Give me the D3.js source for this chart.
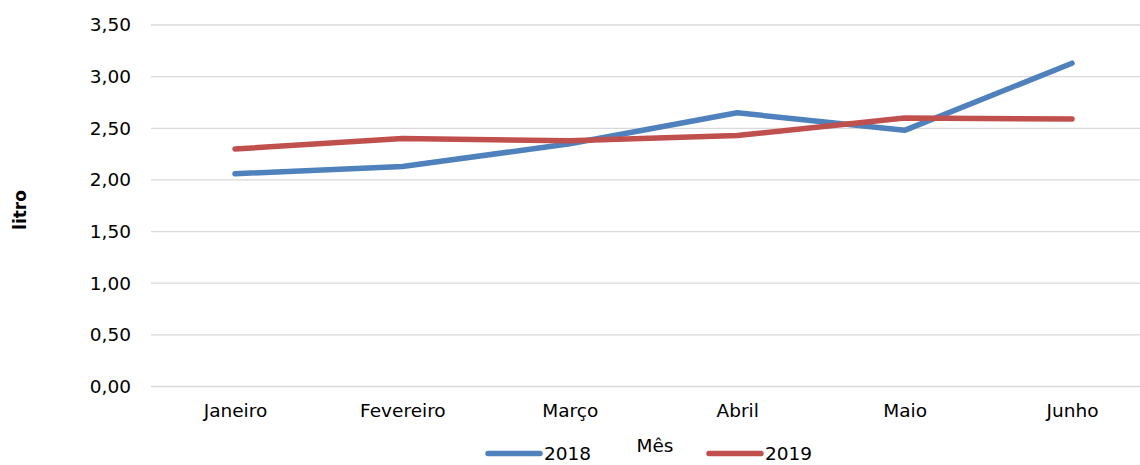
<!DOCTYPE html>
<html>
<head>
<meta charset="utf-8">
<script src="https://cdn.jsdelivr.net/npm/d3@7"></script>
<style>
  html, body { margin: 0; padding: 0; background: #fff; }
  svg { display: block; font-family: "DejaVu Sans", sans-serif; }
</style>
</head>
<body>
<svg id="chart" width="1140" height="465"></svg>
<script>
// Monthly price per litre, first half of the year
const months = ["Janeiro", "Fevereiro", "Março", "Abril", "Maio", "Junho"];
const values2018 = [2.06, 2.13, 2.35, 2.65, 2.48, 3.13];
const values2019 = [2.30, 2.40, 2.38, 2.43, 2.60, 2.59];
const yTicks = [0, 0.5, 1, 1.5, 2, 2.5, 3, 3.5];
const seriesNames = ["2018", "2019"];
const seriesColors = ["#4F81BD", "#C0504D"];

const svg = d3.select("#chart");
const W = 1140;
const FS = 18.5;

const x = d3.scalePoint().domain(months).range([235, 1072]);
const y = d3.scaleLinear().domain([0, 3.5]).range([386.5, 25]);

// horizontal gridlines
svg.append("g")
  .selectAll("line")
  .data(yTicks)
  .join("line")
  .attr("x1", 151).attr("x2", W)
  .attr("y1", d => y(d)).attr("y2", d => y(d))
  .attr("stroke", "#d9d9d9").attr("stroke-width", 1.3);

// y axis labels
const fmt = d => d.toFixed(2).replace(".", ",");
const yAxis = d3.axisLeft(y).tickValues(yTicks).tickFormat(fmt).tickSize(0).tickPadding(0);
svg.append("g")
  .attr("transform", "translate(131,0)")
  .call(yAxis)
  .call(g => g.select(".domain").remove())
  .call(g => g.selectAll("text")
    .attr("font-family", "DejaVu Sans, sans-serif")
    .attr("font-size", FS).attr("fill", "#000"));

// x axis labels
const xAxis = d3.axisBottom(x).tickSize(0).tickPadding(0);
svg.append("g")
  .attr("transform", "translate(0,404)")
  .call(xAxis)
  .call(g => g.select(".domain").remove())
  .call(g => g.selectAll("text")
    .attr("font-family", "DejaVu Sans, sans-serif")
    .attr("font-size", FS).attr("fill", "#000"));

// axis titles
svg.append("text")
  .attr("transform", "translate(26,210) rotate(-90)")
  .attr("text-anchor", "middle")
  .attr("font-size", 17).attr("font-weight", "bold")
  .text("litro");

svg.append("text")
  .attr("x", 655).attr("y", 452)
  .attr("text-anchor", "middle")
  .attr("font-size", FS)
  .text("Mês");

// series lines
const line = d3.line().x((d, i) => x(months[i])).y(d => y(d));
[values2018, values2019].forEach((vals, k) => {
  svg.append("path")
    .datum(vals)
    .attr("d", line)
    .attr("fill", "none")
    .attr("stroke", seriesColors[k])
    .attr("stroke-width", 5.5)
    .attr("stroke-linecap", "round")
    .attr("stroke-linejoin", "round");
});

// legend
const legendX = [488, 709];
seriesNames.forEach((name, k) => {
  const g = svg.append("g").attr("transform", `translate(${legendX[k]},453.5)`);
  g.append("line")
    .attr("x1", 0).attr("x2", 52)
    .attr("stroke", seriesColors[k]).attr("stroke-width", 5.5)
    .attr("stroke-linecap", "round");
  g.append("text")
    .attr("x", 56).attr("y", 6.5)
    .attr("font-size", FS)
    .text(name);
});
</script>
</body>
</html>
